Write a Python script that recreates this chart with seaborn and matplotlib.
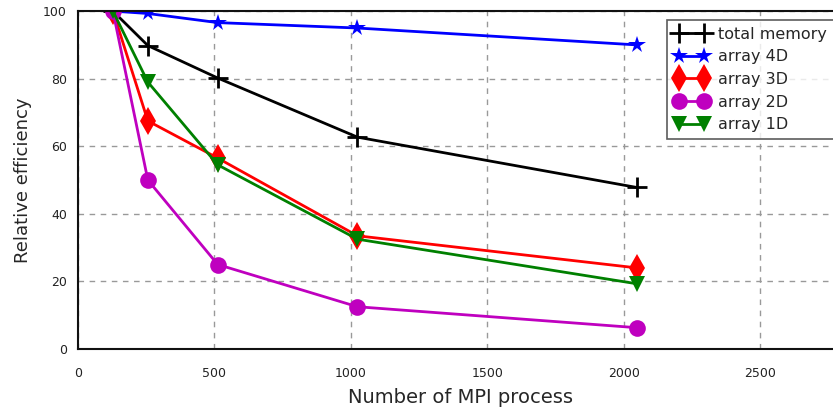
import numpy as np
import pandas as pd
import matplotlib
matplotlib.use("Agg")
import matplotlib.pyplot as plt
import seaborn as sns

procs = [128, 256, 512, 1024, 2048]
total_memory = [100, 89.8, 80.2, 62.7, 47.8]
array_4d = [100, 99.3, 96.6, 95.0, 90.0]
array_3d = [100, 67.5, 56.5, 33.5, 24.0]
array_2d = [100, 50.0, 25.0, 12.5, 6.3]
array_1d = [100, 79.0, 54.5, 32.5, 19.3]

series = {
    "total memory": total_memory,
    "array 4D": array_4d,
    "array 3D": array_3d,
    "array 2D": array_2d,
    "array 1D": array_1d,
}
styles = {
    "total memory": dict(color="black", marker="+", markersize=14, markeredgewidth=2),
    "array 4D": dict(color="blue", marker="*", markersize=13, markeredgewidth=0),
    "array 3D": dict(color="red", marker="d", markersize=14, markeredgewidth=0),
    "array 2D": dict(color="#bf00bf", marker="o", markersize=12, markeredgewidth=0),
    "array 1D": dict(color="green", marker="v", markersize=12, markeredgewidth=0),
}

rows = []
for name, vals in series.items():
    for x, y in zip(procs, vals):
        rows.append({"procs": x, "eff": y, "series": name})
df = pd.DataFrame(rows)

sns.set_style("white")
plt.rcParams["font.family"] = ["DejaVu Sans"]

fig = plt.figure(figsize=(8.33, 4.12), dpi=100)
# axes run past the right edge of the figure, as in the reference
ax = fig.add_axes([78 / 833, 0.153, 764 / 833, 0.820])

for name in series:
    st = styles[name]
    sns.lineplot(data=df[df["series"] == name], x="procs", y="eff", ax=ax,
                 label=name, color=st["color"], linewidth=2,
                 marker=st["marker"], markersize=st["markersize"],
                 markeredgewidth=st["markeredgewidth"], markeredgecolor=st["color"])

ax.set_xlim(0, 2800)
ax.set_ylim(0, 100)
ax.set_xticks([0, 500, 1000, 1500, 2000, 2500])
ax.set_yticks([0, 20, 40, 60, 80, 100])
ax.tick_params(direction="in", length=6, width=1.5, labelsize=9, colors="#222222",
               top=False, right=False, pad=8)
ax.tick_params(axis="x", pad=13)
ax.grid(True, linestyle=(0, (4, 4)), color="#999999", linewidth=1)
for sp in ax.spines.values():
    sp.set_linewidth(1.5)
    sp.set_color("#111111")
ax.set_xlabel("Number of MPI process", fontsize=14, labelpad=6)
ax.set_ylabel("Relative efficiency", fontsize=13, labelpad=8)

# legend box is wider than what is left of the figure, so its right side is cut
leg = ax.legend(loc="upper left",
                bbox_to_anchor=(667 / 833, 0, 200 / 833, 1 - 20 / 412),
                bbox_transform=fig.transFigure, mode="expand",
                fontsize=11.5, numpoints=2,
                frameon=True, fancybox=False, handlelength=2.2,
                borderpad=0.42, labelspacing=0.48, handletextpad=0.6,
                borderaxespad=0)
leg.get_frame().set_edgecolor("#333333")
leg.get_frame().set_linewidth(1.2)

fig.savefig("out.png", dpi=100)
